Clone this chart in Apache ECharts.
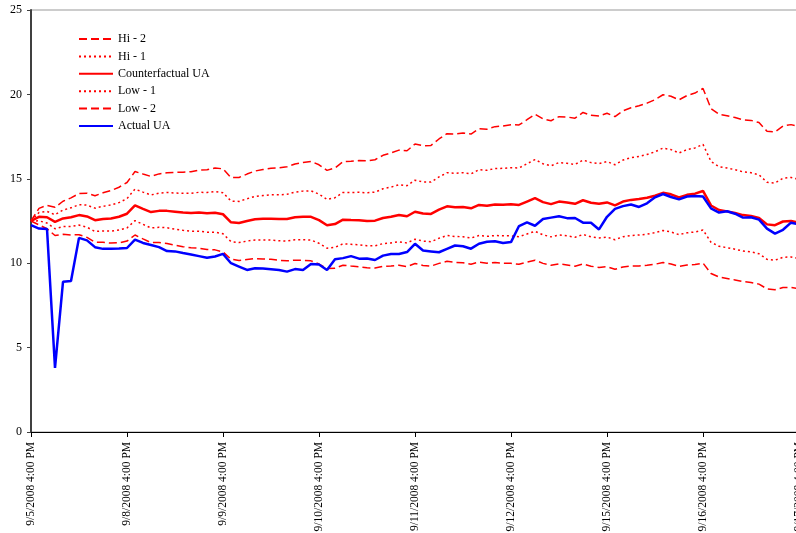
<!DOCTYPE html>
<html><head><meta charset="utf-8">
<script src="https://cdn.jsdelivr.net/npm/echarts@6/dist/echarts.min.js"></script>
<style>html,body{margin:0;padding:0;background:#fff}#c{width:796px;height:533px}</style>
</head><body><div id="c"></div>
<script>
const tickLabels = ['9/5/2008 4:00 PM','9/8/2008 4:00 PM','9/9/2008 4:00 PM','9/10/2008 4:00 PM','9/11/2008 4:00 PM','9/12/2008 4:00 PM','9/15/2008 4:00 PM','9/16/2008 4:00 PM','9/17/2008 4:00 PM'];
const pointsPerDay = 12;
const seriesNames = ['Hi - 2','Hi - 1','Counterfactual UA','Low - 1','Low - 2','Actual UA'];

const hi2 = [12.5,13.25,13.43,13.31,13.67,13.87,14.13,14.15,14.0,14.17,14.3,14.5,
14.78,15.43,15.28,15.14,15.29,15.36,15.38,15.39,15.42,15.52,15.54,15.64,
15.59,15.07,15.08,15.28,15.46,15.55,15.62,15.65,15.71,15.88,15.97,16.03,
15.83,15.5,15.64,16.02,16.04,16.08,16.06,16.13,16.39,16.53,16.7,16.66,
17.06,16.96,16.98,17.36,17.67,17.65,17.71,17.65,17.96,17.94,18.09,18.13,
18.2,18.19,18.5,18.82,18.55,18.44,18.68,18.66,18.59,18.93,18.76,18.72,
18.88,18.68,19.03,19.21,19.33,19.48,19.69,19.98,19.89,19.68,19.93,20.08,
20.35,19.16,18.82,18.74,18.63,18.5,18.46,18.33,17.82,17.78,18.13,18.21,
18.1];

const hi1 = [12.5,13.0,13.07,12.87,13.15,13.28,13.47,13.44,13.26,13.37,13.45,13.59,
13.83,14.39,14.21,14.04,14.15,14.19,14.16,14.14,14.14,14.2,14.19,14.25,
14.18,13.68,13.66,13.82,13.96,14.01,14.05,14.05,14.08,14.21,14.27,14.29,
14.09,13.78,13.88,14.19,14.19,14.2,14.17,14.21,14.41,14.51,14.65,14.59,
14.92,14.81,14.81,15.11,15.36,15.33,15.36,15.29,15.54,15.5,15.61,15.62,
15.66,15.64,15.89,16.14,15.89,15.77,15.96,15.92,15.85,16.11,15.96,15.9,
16.02,15.83,16.11,16.25,16.32,16.44,16.6,16.82,16.73,16.53,16.73,16.83,
17.04,16.03,15.72,15.64,15.54,15.41,15.36,15.24,14.79,14.75,15.03,15.08,
14.97];

const counterfactual = [12.5,12.75,12.72,12.45,12.65,12.72,12.85,12.77,12.55,12.62,12.65,12.75,
12.93,13.42,13.22,13.03,13.1,13.1,13.05,13.0,12.97,13.0,12.96,12.99,
12.9,12.42,12.38,12.5,12.6,12.63,12.64,12.62,12.62,12.72,12.75,12.75,
12.55,12.25,12.32,12.58,12.56,12.55,12.5,12.52,12.68,12.75,12.85,12.78,
13.05,12.94,12.92,13.17,13.37,13.32,13.33,13.25,13.45,13.4,13.48,13.47,
13.49,13.45,13.65,13.85,13.62,13.5,13.65,13.6,13.52,13.73,13.58,13.52,
13.6,13.43,13.65,13.75,13.8,13.88,14.0,14.17,14.08,13.9,14.05,14.12,
14.28,13.42,13.15,13.07,12.97,12.85,12.8,12.68,12.3,12.25,12.47,12.5,
12.4];

const low1 = [12.5,12.51,12.38,12.04,12.17,12.18,12.26,12.13,11.88,11.91,11.9,11.96,
12.09,12.52,12.3,12.09,12.13,12.1,12.02,11.95,11.9,11.9,11.84,11.84,
11.74,11.28,11.22,11.31,11.38,11.38,11.37,11.33,11.31,11.39,11.39,11.37,
11.18,10.89,10.94,11.15,11.12,11.09,11.03,11.03,11.16,11.2,11.27,11.2,
11.42,11.31,11.27,11.48,11.64,11.58,11.57,11.49,11.64,11.59,11.64,11.62,
11.62,11.57,11.73,11.89,11.68,11.56,11.67,11.62,11.54,11.7,11.56,11.5,
11.55,11.39,11.57,11.64,11.67,11.72,11.81,11.94,11.85,11.69,11.8,11.85,
11.97,11.24,11.0,10.92,10.83,10.72,10.67,10.56,10.23,10.18,10.35,10.37,
10.27];

const low2 = [12.5,12.27,12.04,11.64,11.71,11.67,11.69,11.53,11.25,11.24,11.19,11.21,
11.31,11.67,11.44,11.22,11.22,11.17,11.07,10.98,10.91,10.89,10.81,10.79,
10.67,10.24,10.16,10.22,10.27,10.25,10.23,10.17,10.14,10.18,10.17,10.14,
9.95,9.68,9.7,9.88,9.83,9.79,9.73,9.71,9.81,9.83,9.88,9.8,
9.98,9.87,9.83,9.99,10.11,10.05,10.03,9.94,10.07,10.0,10.04,10.0,
9.99,9.94,10.06,10.18,9.99,9.88,9.96,9.9,9.82,9.95,9.82,9.75,
9.79,9.64,9.78,9.83,9.84,9.88,9.94,10.04,9.95,9.81,9.89,9.92,
10.01,9.39,9.18,9.1,9.01,8.91,8.86,8.76,8.48,8.43,8.56,8.56,
8.48];

const actual = [12.25,12.05,12.03,3.8,8.9,8.95,11.5,11.35,10.95,10.85,10.85,10.87,
10.9,11.4,11.2,11.08,10.95,10.72,10.7,10.6,10.52,10.42,10.32,10.4,
10.55,10.0,9.8,9.6,9.7,9.68,9.64,9.6,9.5,9.65,9.6,9.95,
9.92,9.6,10.23,10.3,10.42,10.27,10.28,10.19,10.45,10.55,10.55,10.66,
11.15,10.75,10.7,10.65,10.85,11.05,11.0,10.86,11.15,11.27,11.3,11.2,
11.25,12.2,12.42,12.22,12.62,12.7,12.78,12.67,12.68,12.4,12.4,12.0,
12.75,13.22,13.38,13.48,13.33,13.55,13.9,14.1,13.92,13.78,13.95,13.98,
13.95,13.25,13.0,13.08,12.93,12.7,12.72,12.58,12.05,11.75,11.98,12.4,
12.3];

const categories = [];
for (let i = 0; i < counterfactual.length; i++) {
  const d = Math.floor(i / pointsPerDay), j = i % pointsPerDay;
  categories.push(j === 0 ? tickLabels[d] : tickLabels[d] + ' +' + j);
}

const FONT = 'Liberation Serif';
const RED = '#ff0000', BLUE = '#0000ff';
const dashed = [8, 4], dotted = [2, 3];
const styles = [
  {data: hi2, color: RED, width: 1.5, type: dashed},
  {data: hi1, color: RED, width: 1.5, type: dotted},
  {data: counterfactual, color: RED, width: 2.5, type: 'solid'},
  {data: low1, color: RED, width: 1.5, type: dotted},
  {data: low2, color: RED, width: 1.5, type: dashed},
  {data: actual, color: BLUE, width: 2.5, type: 'solid'}
];

const chart = echarts.init(document.getElementById('c'), null, {renderer: 'canvas'});
chart.setOption({
  animation: false,
  backgroundColor: '#fff',
  grid: {left: 31, right: -3, top: 10, bottom: 101, show: true, borderColor: '#999', borderWidth: 1,
         outerBoundsMode: 'none', containLabel: false},
  legend: {
    orient: 'vertical', left: 73, top: 28, itemWidth: 34, itemHeight: 12, itemGap: 5.4,
    data: seriesNames,
    itemStyle: {color: 'rgba(0,0,0,0)', borderWidth: 0, opacity: 0},
    textStyle: {fontFamily: FONT, fontSize: 12, color: '#000'}
  },
  xAxis: {
    type: 'category', data: categories, boundaryGap: false,
    axisLine: {lineStyle: {color: '#000', width: 1}},
    axisTick: {interval: pointsPerDay - 1, length: 5, lineStyle: {color: '#000'}},
    axisLabel: {interval: pointsPerDay - 1, rotate: 90, fontFamily: FONT, fontSize: 11.5, color: '#000', margin: 10},
    splitLine: {show: false}
  },
  yAxis: {
    type: 'value', min: 0, max: 25, interval: 5,
    axisLine: {show: true, lineStyle: {color: '#404040', width: 2}},
    axisTick: {show: true, length: 4, lineStyle: {color: '#404040'}},
    axisLabel: {fontFamily: FONT, fontSize: 12, color: '#000', margin: 9},
    splitLine: {show: false}
  },
  series: styles.map((s, k) => ({
    name: seriesNames[k], type: 'line', data: s.data, symbol: 'none', smooth: false,
    lineStyle: {color: s.color, width: s.width, type: s.type},
    itemStyle: {color: s.color},
    emphasis: {disabled: true}
  }))
});
</script></body></html>
